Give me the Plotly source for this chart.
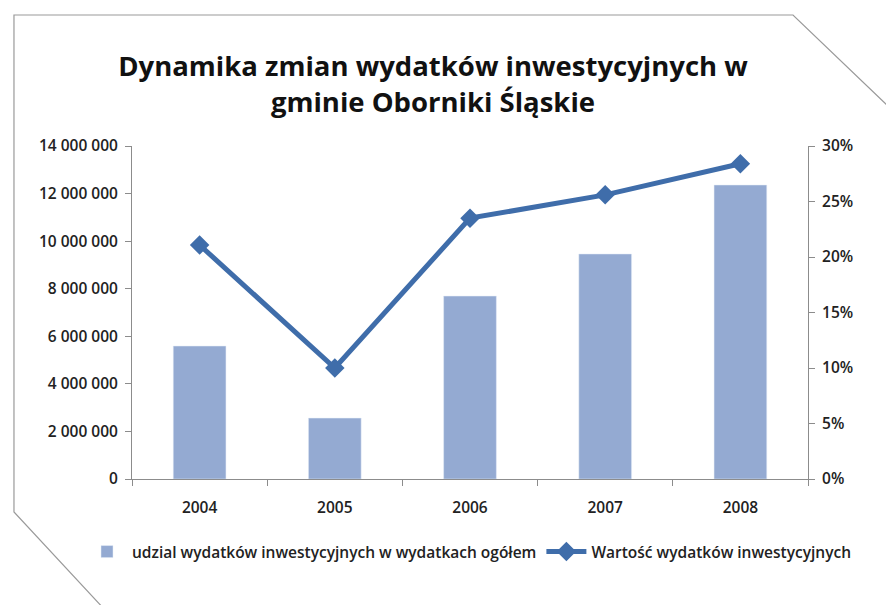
import plotly.graph_objects as go

years = ["2004", "2005", "2006", "2007", "2008"]
bar_values = [5590000, 2560000, 7690000, 9460000, 12360000]
line_values = [0.2108, 0.100, 0.235, 0.256, 0.284]
bar_name = "udzial wydatków inwestycyjnych w wydatkach ogółem"
line_name = "Wartość wydatków inwestycyjnych"
title_text = "Dynamika zmian wydatków inwestycyjnych w<br>gminie Oborniki Śląskie"
left_ticks = [0, 2000000, 4000000, 6000000, 8000000, 10000000, 12000000, 14000000]
left_labels = ["0", "2 000 000", "4 000 000", "6 000 000", "8 000 000", "10 000 000", "12 000 000", "14 000 000"]
right_ticks = [0, 0.05, 0.10, 0.15, 0.20, 0.25, 0.30]
right_labels = ["0%", "5%", "10%", "15%", "20%", "25%", "30%"]

W, H = 886, 605
L, R, T, B = 132, 78, 146, 126
pw, ph = W - L - R, H - T - B

def px(x):
    return (x - L) / pw

def py(y):
    return (H - B - y) / ph

def path(pts):
    return "M " + " L ".join(f"{px(x):.4f},{py(y):.4f}" for x, y in pts) + " Z"

card = [(14, 15), (793, 15), (890, 108), (890, 610), (105, 610), (14, 512)]
shadow = [(x + 3, y + 3) for x, y in card]

FONT = "Open Sans"
TICKFONT = dict(family=FONT, size=15.5, color="#222222", weight=600)

fig = go.Figure()
fig.add_trace(go.Bar(x=years, y=bar_values, name=bar_name, marker_color="#94AAD2",
                     width=0.39, yaxis="y"))
fig.add_trace(go.Scatter(x=years, y=line_values, name=line_name, yaxis="y2",
                         mode="lines+markers",
                         line=dict(color="#3F6DAA", width=5),
                         marker=dict(symbol="diamond", size=15, color="#3F6DAA")))

fig.update_layout(
    width=W, height=H,
    margin=dict(l=L, r=R, t=T, b=B),
    paper_bgcolor="white", plot_bgcolor="rgba(0,0,0,0)",
    title=dict(text=title_text, x=433 / W, xanchor="center", y=1 - 76 / H, yanchor="top",
               font=dict(family=FONT, size=27.5, color="#111111", weight=700)),
    font=dict(family=FONT, color="#222222"),
    showlegend=True,
    legend=dict(orientation="h", x=px(82), xanchor="left", y=py(552), yanchor="middle",
                xref="paper", yref="paper",
                font=dict(family=FONT, size=15.5, color="#222222", weight=600),
                traceorder="normal", itemwidth=40, bgcolor="rgba(0,0,0,0)"),
    xaxis=dict(type="category", showline=True, linecolor="#8C8C8C", linewidth=1,
               ticks="outside", tickson="boundaries", ticklen=6, tickcolor="#8C8C8C",
               tickfont=TICKFONT, showgrid=False, fixedrange=True, ticklabelstandoff=14),
    yaxis=dict(range=[0, 14000000], tickvals=left_ticks, ticktext=left_labels,
               showline=True, linecolor="#8C8C8C", ticks="outside", ticklen=6,
               tickcolor="#8C8C8C", showgrid=False, zeroline=False, tickfont=TICKFONT,
               ticklabelstandoff=4, fixedrange=True),
    yaxis2=dict(range=[0, 0.30], tickvals=right_ticks, ticktext=right_labels,
                overlaying="y", side="right", showline=True, linecolor="#8C8C8C",
                ticks="outside", ticklen=6, tickcolor="#8C8C8C", showgrid=False,
                zeroline=False, tickfont=TICKFONT, ticklabelstandoff=4, fixedrange=True),
    bargap=0.61,
    shapes=[
        dict(type="path", xref="paper", yref="paper", path=path(shadow),
             fillcolor="rgba(0,0,0,0.13)", line=dict(width=0), layer="below"),
        dict(type="path", xref="paper", yref="paper", path=path(card),
             fillcolor="white", line=dict(color="#9A9A9A", width=1.2), layer="below"),
    ],
)

fig.write_html("out.html", config={"displayModeBar": False},
               post_script="document.body.style.margin='0';")
